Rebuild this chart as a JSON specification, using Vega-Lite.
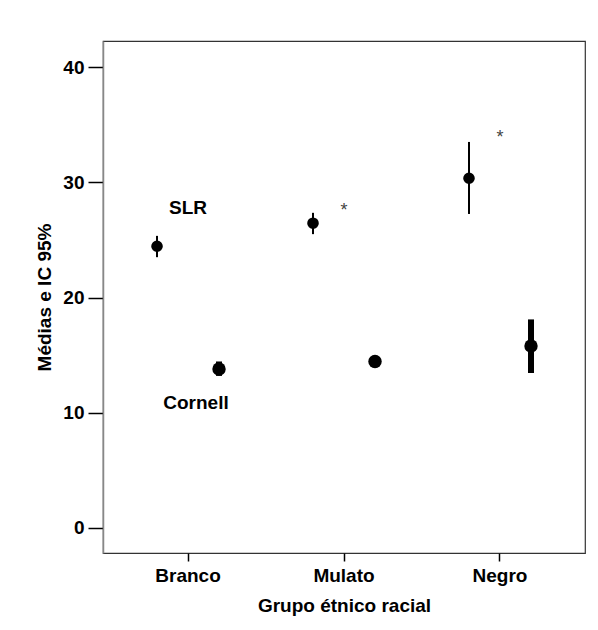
{
  "$schema": "https://vega.github.io/schema/vega-lite/v6.json",
  "width": 482,
  "height": 512,
  "autosize": "none",
  "padding": {"left": 103, "top": 41, "right": 13, "bottom": 77},
  "background": "white",
  "config": {
    "view": {"stroke": "#333333", "strokeWidth": 1.2},
    "font": "Liberation Sans",
    "axis": {
      "grid": false,
      "labelFont": "Liberation Sans",
      "labelFontSize": 19,
      "labelFontWeight": "bold",
      "labelColor": "#000000",
      "titleFont": "Liberation Sans",
      "titleFontSize": 19,
      "titleFontWeight": "bold",
      "titleColor": "#000000",
      "tickColor": "#000000",
      "tickWidth": 1.5
    }
  },
  "datasets": {
    "stats": [
      {"grupo": "Branco", "serie": "SLR", "media": 24.45, "li": 23.5, "ls": 25.35},
      {"grupo": "Mulato", "serie": "SLR", "media": 26.45, "li": 25.5, "ls": 27.35},
      {"grupo": "Negro", "serie": "SLR", "media": 30.35, "li": 27.25, "ls": 33.5},
      {"grupo": "Branco", "serie": "Cornell", "media": 13.8, "li": 13.2, "ls": 14.45},
      {"grupo": "Mulato", "serie": "Cornell", "media": 14.45, "li": 14.05, "ls": 14.85},
      {"grupo": "Negro", "serie": "Cornell", "media": 15.8, "li": 13.45, "ls": 18.1}
    ],
    "rotulos": [
      {"grupo": "Branco", "texto": "SLR", "valor": 27.8},
      {"grupo": "Branco", "texto": "Cornell", "valor": 10.85}
    ],
    "asteriscos": [
      {"grupo": "Mulato", "texto": "*", "valor": 27.95},
      {"grupo": "Negro", "texto": "*", "valor": 34.3}
    ]
  },
  "encoding": {
    "x": {
      "field": "grupo",
      "type": "nominal",
      "sort": ["Branco", "Mulato", "Negro"],
      "scale": {"type": "band", "paddingInner": 0, "paddingOuter": 0.045, "domain": ["Branco", "Mulato", "Negro"]},
      "axis": {
        "title": "Grupo étnico racial",
        "labelAngle": 0,
        "tickSize": 8,
        "labelPadding": 5,
        "domain": false,
        "titleY": 43
      }
    }
  },
  "layer": [
    {
      "data": {"name": "stats"},
      "mark": {"type": "rule", "color": "#000000"},
      "encoding": {
        "xOffset": {"field": "serie", "type": "nominal", "scale": {"type": "point", "domain": ["SLR", "Cornell"], "range": [47, 109], "padding": 0}},
        "y": {
          "field": "li",
          "type": "quantitative",
          "scale": {"domain": [-2.17, 42.26], "nice": false, "zero": false},
          "axis": {
            "title": "Médias e IC 95%",
            "values": [0, 10, 20, 30, 40],
            "tickSize": 15,
            "labelPadding": 4,
            "domain": true,
            "domainColor": "#888888",
            "domainWidth": 1.5,
            "titleX": -49
          }
        },
        "y2": {"field": "ls"},
        "strokeWidth": {"field": "serie", "type": "nominal", "scale": {"domain": ["SLR", "Cornell"], "range": [2, 6]}, "legend": null}
      }
    },
    {
      "data": {"name": "stats"},
      "mark": {"type": "point", "filled": true, "color": "#000000", "opacity": 1, "shape": "circle"},
      "encoding": {
        "xOffset": {"field": "serie", "type": "nominal"},
        "y": {"field": "media", "type": "quantitative"},
        "size": {"field": "serie", "type": "nominal", "scale": {"domain": ["SLR", "Cornell"], "range": [135, 180]}, "legend": null}
      }
    },
    {
      "data": {"name": "rotulos"},
      "transform": [{"filter": "datum.texto === 'SLR'"}],
      "mark": {"type": "text", "font": "Liberation Sans", "fontSize": 19, "fontWeight": "bold", "color": "#000000", "baseline": "middle", "align": "center"},
      "encoding": {
        "y": {"field": "valor", "type": "quantitative"},
        "text": {"field": "texto"}
      }
    },
    {
      "data": {"name": "rotulos"},
      "transform": [{"filter": "datum.texto === 'Cornell'"}],
      "mark": {"type": "text", "font": "Liberation Sans", "fontSize": 19, "fontWeight": "bold", "color": "#000000", "baseline": "middle", "align": "center", "dx": 8},
      "encoding": {
        "y": {"field": "valor", "type": "quantitative"},
        "text": {"field": "texto"}
      }
    },
    {
      "data": {"name": "asteriscos"},
      "mark": {"type": "text", "font": "Liberation Sans", "fontSize": 18, "color": "#444444", "baseline": "middle", "align": "center", "dy": 5},
      "encoding": {
        "y": {"field": "valor", "type": "quantitative"},
        "text": {"field": "texto"}
      }
    }
  ]
}
